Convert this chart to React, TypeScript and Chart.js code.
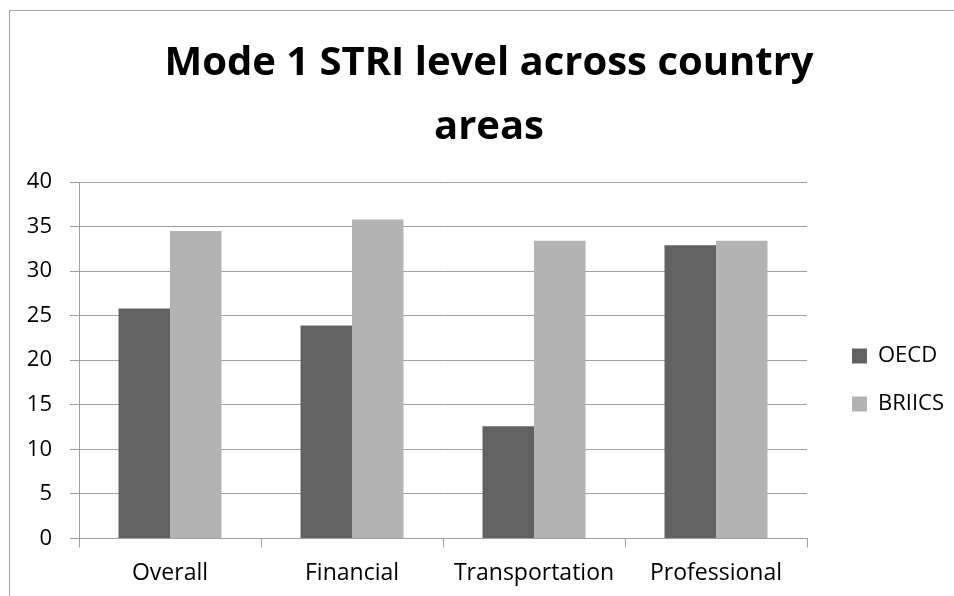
import React, { useEffect, useRef } from "react";
import { Chart, registerables } from "chart.js";

Chart.register(...registerables);

const categories = ["Overall", "Financial", "Transportation", "Professional"];
const oecdValues = [25.8, 23.9, 12.6, 32.9];
const briicsValues = [34.5, 35.8, 33.4, 33.4];
const titleLines = ["Mode 1 STRI level across country", "areas"];
const seriesNames = ["OECD", "BRIICS"];

const FONT = "'Open Sans', sans-serif";
const GRID = "#a0a0a0";

export default function App() {
  const ref = useRef<HTMLCanvasElement | null>(null);

  useEffect(() => {
    if (!ref.current) return;
    const chart = new Chart(ref.current, {
      type: "bar",
      data: {
        labels: categories,
        datasets: [
          {
            label: seriesNames[0],
            data: oecdValues,
            backgroundColor: "#626262",
            borderWidth: 0,
          },
          {
            label: seriesNames[1],
            data: briicsValues,
            backgroundColor: "#b3b3b3",
            borderWidth: 0,
          },
        ],
      },
      options: {
        animation: false,
        responsive: false,
        maintainAspectRatio: false,
        layout: { padding: { left: 14, right: 0, top: 0, bottom: -3 } },
        datasets: {
          bar: { categoryPercentage: 0.566, barPercentage: 1 },
        },
        plugins: {
          tooltip: { enabled: false },
          title: {
            display: true,
            text: titleLines,
            color: "#000",
            font: { family: FONT, size: 40, weight: "bold", lineHeight: 1.6 },
            padding: { top: 21, bottom: 22 },
          },
          legend: {
            position: "right",
            align: "center",
            title: {
              display: true,
              text: " ",
              font: { family: FONT, size: 12, lineHeight: 1.25 },
              padding: { top: 135, bottom: 0 },
            },
            labels: {
              color: "#000",
              font: { family: FONT, size: 22 },
              boxWidth: 15,
              boxHeight: 15,
              padding: 26,
            },
          },
        },
        scales: {
          x: {
            grid: {
              offset: true,
              drawOnChartArea: false,
              drawTicks: true,
              tickLength: 9,
              color: GRID,
            },
            border: { display: true, color: GRID },
            ticks: {
              color: "#000",
              font: { family: FONT, size: 23 },
              padding: 12,
              maxRotation: 0,
            },
          },
          y: {
            min: 0,
            max: 40,
            ticks: {
              stepSize: 5,
              color: "#000",
              font: { family: FONT, size: 22 },
              padding: 18,
            },
            grid: { color: GRID, tickLength: 9, drawTicks: true },
            border: { display: true, color: GRID },
            afterFit: (scale: any) => {
              scale.width = 55;
            },
          },
          y2: {
            position: "right",
            display: true,
            grid: { display: false, drawTicks: false },
            ticks: { display: false },
            border: { display: false },
            afterFit: (scale: any) => {
              scale.width = 19;
            },
          },
        },
      },
    });
    return () => chart.destroy();
  }, []);

  return (
    <div
      style={{
        position: "fixed",
        left: 9,
        top: 10,
        width: 1000,
        height: 700,
        borderTop: "1px solid #a6a6a6",
        borderLeft: "1px solid #a6a6a6",
        background: "#fff",
      }}
    >
      <canvas ref={ref} width={944} height={585} style={{ display: "block" }} />
    </div>
  );
}
